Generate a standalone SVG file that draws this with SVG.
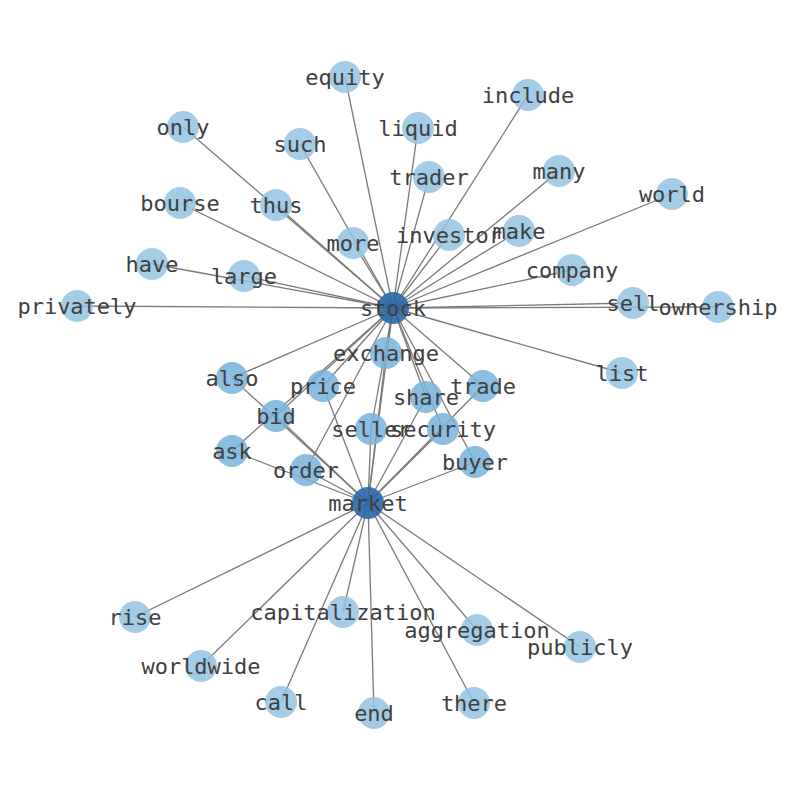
<svg xmlns="http://www.w3.org/2000/svg" width="794" height="790" viewBox="0 0 794 790">
<style>
.e{stroke:#7a7a7a;stroke-width:1.3;fill:none}
.n circle{stroke:none}
.l circle{fill:#93c3e2;opacity:.85}
.m circle{fill:#78b3dc;opacity:.85}
.h circle{fill:#2a68a8;opacity:.9}
text{font-family:"DejaVu Sans Mono",monospace;font-size:22px;fill:#404040;text-anchor:middle;dominant-baseline:central}
</style>
<rect width="794" height="790" fill="#fff"/>
<g id="edges">
<line class="e" x1="393" y1="308" x2="345" y2="77"/>
<line class="e" x1="393" y1="308" x2="528" y2="95"/>
<line class="e" x1="393" y1="308" x2="183" y2="127"/>
<line class="e" x1="393" y1="308" x2="418" y2="128"/>
<line class="e" x1="393" y1="308" x2="300" y2="144"/>
<line class="e" x1="393" y1="308" x2="429" y2="177"/>
<line class="e" x1="393" y1="308" x2="559" y2="171"/>
<line class="e" x1="393" y1="308" x2="672" y2="194"/>
<line class="e" x1="393" y1="308" x2="180" y2="203"/>
<line class="e" x1="393" y1="308" x2="276" y2="205"/>
<line class="e" x1="393" y1="308" x2="353" y2="243"/>
<line class="e" x1="393" y1="308" x2="449" y2="235"/>
<line class="e" x1="393" y1="308" x2="519" y2="231"/>
<line class="e" x1="393" y1="308" x2="152" y2="264"/>
<line class="e" x1="393" y1="308" x2="244" y2="276"/>
<line class="e" x1="393" y1="308" x2="572" y2="270"/>
<line class="e" x1="393" y1="308" x2="77" y2="306"/>
<line class="e" x1="393" y1="308" x2="633" y2="303"/>
<line class="e" x1="393" y1="308" x2="718" y2="307"/>
<line class="e" x1="393" y1="308" x2="622" y2="373"/>
<line class="e" x1="393" y1="308" x2="386" y2="353"/>
<line class="e" x1="393" y1="308" x2="232" y2="378"/>
<line class="e" x1="393" y1="308" x2="323" y2="386"/>
<line class="e" x1="393" y1="308" x2="483" y2="386"/>
<line class="e" x1="393" y1="308" x2="426" y2="397"/>
<line class="e" x1="393" y1="308" x2="371" y2="429"/>
<line class="e" x1="393" y1="308" x2="443" y2="429"/>
<line class="e" x1="393" y1="308" x2="276" y2="416"/>
<line class="e" x1="393" y1="308" x2="232" y2="451"/>
<line class="e" x1="393" y1="308" x2="306" y2="470"/>
<line class="e" x1="393" y1="308" x2="475" y2="462"/>
<line class="e" x1="393" y1="308" x2="368" y2="503"/>
<line class="e" x1="368" y1="503" x2="135" y2="617"/>
<line class="e" x1="368" y1="503" x2="343" y2="612"/>
<line class="e" x1="368" y1="503" x2="477" y2="630"/>
<line class="e" x1="368" y1="503" x2="580" y2="647"/>
<line class="e" x1="368" y1="503" x2="201" y2="666"/>
<line class="e" x1="368" y1="503" x2="281" y2="702"/>
<line class="e" x1="368" y1="503" x2="374" y2="713"/>
<line class="e" x1="368" y1="503" x2="474" y2="703"/>
<line class="e" x1="368" y1="503" x2="475" y2="462"/>
<line class="e" x1="368" y1="503" x2="306" y2="470"/>
<line class="e" x1="368" y1="503" x2="232" y2="451"/>
<line class="e" x1="368" y1="503" x2="276" y2="416"/>
<line class="e" x1="368" y1="503" x2="232" y2="378"/>
<line class="e" x1="368" y1="503" x2="323" y2="386"/>
<line class="e" x1="368" y1="503" x2="371" y2="429"/>
<line class="e" x1="368" y1="503" x2="443" y2="429"/>
<line class="e" x1="368" y1="503" x2="426" y2="397"/>
<line class="e" x1="368" y1="503" x2="483" y2="386"/>
<line class="e" x1="368" y1="503" x2="386" y2="353"/>
</g>
<g id="node-equity" class="n l"><circle cx="345" cy="77" r="16"/><text x="345" y="77">equity</text></g>
<g id="node-include" class="n l"><circle cx="528" cy="95" r="16"/><text x="528" y="95">include</text></g>
<g id="node-only" class="n l"><circle cx="183" cy="127" r="16"/><text x="183" y="127">only</text></g>
<g id="node-liquid" class="n l"><circle cx="418" cy="128" r="16"/><text x="418" y="128">liquid</text></g>
<g id="node-such" class="n l"><circle cx="300" cy="144" r="16"/><text x="300" y="144">such</text></g>
<g id="node-trader" class="n l"><circle cx="429" cy="177" r="16"/><text x="429" y="177">trader</text></g>
<g id="node-many" class="n l"><circle cx="559" cy="171" r="16"/><text x="559" y="171">many</text></g>
<g id="node-world" class="n l"><circle cx="672" cy="194" r="16"/><text x="672" y="194">world</text></g>
<g id="node-bourse" class="n l"><circle cx="180" cy="203" r="16"/><text x="180" y="203">bourse</text></g>
<g id="node-thus" class="n l"><circle cx="276" cy="205" r="16"/><text x="276" y="205">thus</text></g>
<g id="node-more" class="n l"><circle cx="353" cy="243" r="16"/><text x="353" y="243">more</text></g>
<g id="node-investor" class="n l"><circle cx="449" cy="235" r="16"/><text x="449" y="235">investor</text></g>
<g id="node-make" class="n l"><circle cx="519" cy="231" r="16"/><text x="519" y="231">make</text></g>
<g id="node-have" class="n l"><circle cx="152" cy="264" r="16"/><text x="152" y="264">have</text></g>
<g id="node-large" class="n l"><circle cx="244" cy="276" r="16"/><text x="244" y="276">large</text></g>
<g id="node-company" class="n l"><circle cx="572" cy="270" r="16"/><text x="572" y="270">company</text></g>
<g id="node-privately" class="n l"><circle cx="77" cy="306" r="16"/><text x="77" y="306">privately</text></g>
<g id="node-sell" class="n l"><circle cx="633" cy="303" r="16"/><text x="633" y="303">sell</text></g>
<g id="node-ownership" class="n l"><circle cx="718" cy="307" r="16"/><text x="718" y="307">ownership</text></g>
<g id="node-list" class="n l"><circle cx="622" cy="373" r="16"/><text x="622" y="373">list</text></g>
<g id="node-exchange" class="n m"><circle cx="386" cy="353" r="16"/><text x="386" y="353">exchange</text></g>
<g id="node-also" class="n m"><circle cx="232" cy="378" r="16"/><text x="232" y="378">also</text></g>
<g id="node-price" class="n m"><circle cx="323" cy="386" r="16"/><text x="323" y="386">price</text></g>
<g id="node-trade" class="n m"><circle cx="483" cy="386" r="16"/><text x="483" y="386">trade</text></g>
<g id="node-share" class="n m"><circle cx="426" cy="397" r="16"/><text x="426" y="397">share</text></g>
<g id="node-bid" class="n m"><circle cx="276" cy="416" r="16"/><text x="276" y="416">bid</text></g>
<g id="node-seller" class="n m"><circle cx="371" cy="429" r="16"/><text x="371" y="429">seller</text></g>
<g id="node-security" class="n m"><circle cx="443" cy="429" r="16"/><text x="443" y="429">security</text></g>
<g id="node-ask" class="n m"><circle cx="232" cy="451" r="16"/><text x="232" y="451">ask</text></g>
<g id="node-buyer" class="n m"><circle cx="475" cy="462" r="16"/><text x="475" y="462">buyer</text></g>
<g id="node-order" class="n m"><circle cx="306" cy="470" r="16"/><text x="306" y="470">order</text></g>
<g id="node-rise" class="n l"><circle cx="135" cy="617" r="16"/><text x="135" y="617">rise</text></g>
<g id="node-capitalization" class="n l"><circle cx="343" cy="612" r="16"/><text x="343" y="612">capitalization</text></g>
<g id="node-aggregation" class="n l"><circle cx="477" cy="630" r="16"/><text x="477" y="630">aggregation</text></g>
<g id="node-publicly" class="n l"><circle cx="580" cy="647" r="16"/><text x="580" y="647">publicly</text></g>
<g id="node-worldwide" class="n l"><circle cx="201" cy="666" r="16"/><text x="201" y="666">worldwide</text></g>
<g id="node-call" class="n l"><circle cx="281" cy="702" r="16"/><text x="281" y="702">call</text></g>
<g id="node-end" class="n l"><circle cx="374" cy="713" r="16"/><text x="374" y="713">end</text></g>
<g id="node-there" class="n l"><circle cx="474" cy="703" r="16"/><text x="474" y="703">there</text></g>
<g id="node-stock" class="n h"><circle cx="393" cy="308" r="16"/><text x="393" y="308">stock</text></g>
<g id="node-market" class="n h"><circle cx="368" cy="503" r="16"/><text x="368" y="503">market</text></g>
</svg>
